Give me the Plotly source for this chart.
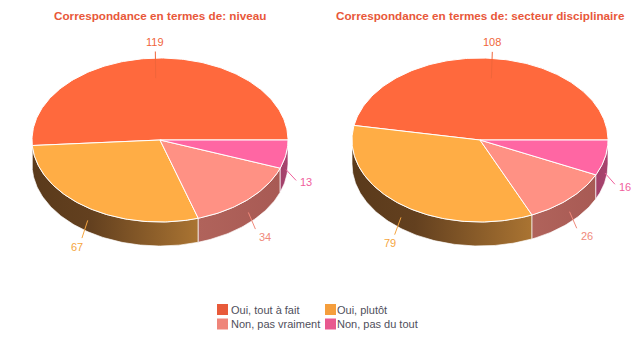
import numpy as np
import plotly.graph_objects as go

# ---- data -------------------------------------------------------------
categories = ["Oui, tout à fait", "Oui, plutôt", "Non, pas vraiment", "Non, pas du tout"]
niveau_values = [119, 67, 34, 13]
secteur_values = [108, 79, 26, 16]
panel_titles = [
    "Correspondance en termes de: niveau",
    "Correspondance en termes de: secteur disciplinaire",
]

# ---- styling ----------------------------------------------------------
top_colors = ["#FF693D", "#FFAD45", "#FF9184", "#FF66A3"]
legend_colors = ["#E85A3A", "#F59E3C", "#EF857A", "#E8598F"]
label_colors = ["#F0653A", "#F5A540", "#F08A7C", "#F0609C"]
side_scales = [
    [[0, "#7A3420"], [1, "#A8482C"]],
    [[0, "#5A3A1B"], [0.35, "#63401F"], [1, "#AA7432"]],
    [[0, "#B0635B"], [1, "#A85A54"]],
    [[0, "#A24068"], [1, "#A84470"]],
]
TITLE_COLOR = "#E8583A"
TEXT_COLOR = "#4F4F5C"
FONT = "Arial, Liberation Sans, sans-serif"

W, H = 640, 340
RX, RY, DEPTH = 128, 82, 24
CY = 140
CENTERS = [160, 480]

fig = go.Figure()


def arc(cx, t0, t1, dy=0.0):
    n = max(int(abs(t1 - t0) * 180 / np.pi), 2) + 1
    t = np.linspace(t0, t1, n)
    return cx + RX * np.cos(t), CY - RY * np.sin(t) + dy


def draw_pie(cx, values):
    vals = np.asarray(values, dtype=float)
    edges = np.concatenate([[0.0], np.cumsum(vals)]) / vals.sum() * 2 * np.pi

    # outer side walls (front half only)
    for i in range(len(vals)):
        a, b = max(edges[i], np.pi), min(edges[i + 1], 2 * np.pi)
        if b <= a:
            continue
        xt, yt = arc(cx, a, b)
        xb, yb = arc(cx, b, a, DEPTH)
        fig.add_trace(go.Scatter(
            x=np.concatenate([xt, xb, xt[:1]]), y=np.concatenate([yt, yb, yt[:1]]),
            mode="lines", fill="toself",
            fillgradient=dict(type="horizontal", colorscale=side_scales[i]),
            line=dict(color="rgba(255,255,255,0.85)", width=0.8),
            hoverinfo="skip", showlegend=False,
        ))

    # top faces
    for i in range(len(vals)):
        xa, ya = arc(cx, edges[i], edges[i + 1])
        fig.add_trace(go.Scatter(
            x=np.concatenate([[cx], xa, [cx]]), y=np.concatenate([[CY], ya, [CY]]),
            mode="lines", fill="toself", fillcolor=top_colors[i],
            line=dict(color="white", width=1),
            name=categories[i], text=f"{categories[i]}: {values[i]}",
            hoverinfo="text", hoveron="fills", showlegend=False,
        ))

    # value labels with connectors
    for i in range(len(vals)):
        th = (edges[i] + edges[i + 1]) / 2
        c, s = np.cos(th), np.sin(th)
        x0 = cx + RX * c
        y0 = CY - RY * s + 16 + 4 * s
        x1 = cx + 1.08 * RX * c
        y1 = CY - 1.08 * RY * s + 25 * (1 - max(s, 0.0))
        fig.add_trace(go.Scatter(
            x=[x0, x1], y=[y0, y1], mode="lines",
            line=dict(color=label_colors[i], width=1),
            hoverinfo="skip", showlegend=False,
        ))
        if s > 0.5:
            pos = dict(x=x1, y=y1 - 2, xanchor="center", yanchor="bottom")
        elif c >= 0:
            pos = dict(x=x1 + 2, y=y1 + 11 * abs(s), xanchor="left", yanchor="middle")
        else:
            pos = dict(x=x1 + 3, y=y1 + 11 * abs(s), xanchor="right", yanchor="middle")
        fig.add_annotation(
            text=str(values[i]), showarrow=False, xref="x", yref="y",
            font=dict(family=FONT, size=11, color=label_colors[i]), **pos,
        )


for cx, vals, title in zip(CENTERS, [niveau_values, secteur_values], panel_titles):
    draw_pie(cx, vals)
    fig.add_annotation(
        text=f"<b>{title}</b>", showarrow=False, xref="x", yref="y",
        x=cx, y=15, xanchor="center", yanchor="middle",
        font=dict(family=FONT, size=11.7, color=TITLE_COLOR),
    )

# legend: two rows of two swatches with labels
LEG_X0, LEG_Y0, SWATCH = 217, 304, 11
COL_STEP, ROW_STEP, TEXT_STEP = 108, 14.5, 106
for i, cat in enumerate(categories):
    col, row = i % 2, i // 2
    sx = LEG_X0 + col * COL_STEP
    sy = LEG_Y0 + row * ROW_STEP
    fig.add_shape(
        type="rect", xref="x", yref="y",
        x0=sx, x1=sx + SWATCH, y0=sy, y1=sy + SWATCH,
        fillcolor=legend_colors[i], line=dict(width=0),
    )
    fig.add_annotation(
        text=cat, showarrow=False, xref="x", yref="y",
        x=LEG_X0 + 14 + col * TEXT_STEP, y=sy + SWATCH / 2,
        xanchor="left", yanchor="middle", xshift=-2,
        font=dict(family=FONT, size=11, color=TEXT_COLOR),
    )

fig.update_layout(
    width=W, height=H,
    margin=dict(l=0, r=0, t=0, b=0),
    paper_bgcolor="white", plot_bgcolor="white",
    xaxis=dict(range=[0, W], visible=False, fixedrange=True, domain=[0, 1]),
    yaxis=dict(range=[H, 0], visible=False, fixedrange=True, domain=[0, 1]),
    showlegend=False,
)

fig.write_html("out.html")
